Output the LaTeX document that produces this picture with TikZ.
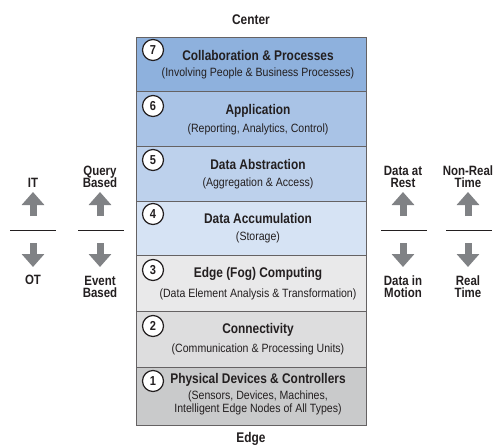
\documentclass[tikz,border=0pt]{standalone}
\usepackage{fontspec}
\setmainfont{Liberation Sans}[FakeStretch=0.85]
\newfontfamily\subfont{Liberation Sans}[FakeStretch=0.88]
\usetikzlibrary{arrows.meta}
\definecolor{ink}{HTML}{231F20}
\definecolor{lseven}{HTML}{8EB1DD}
\definecolor{lsix}{HTML}{A9C3E6}
\definecolor{lfive}{HTML}{BDD1EC}
\definecolor{lfour}{HTML}{D6E3F4}
\definecolor{lthree}{HTML}{E9E9EA}
\definecolor{ltwo}{HTML}{DDDDDE}
\definecolor{lone}{HTML}{C9CACB}
\definecolor{arrowgray}{HTML}{808285}
\tikzset{
  layer/.style={draw=ink!70, line width=0.9pt, minimum width=230pt, inner sep=0pt, anchor=north west},
  numcirc/.style={circle, draw=ink, line width=1.2pt, fill=white, minimum size=21pt, inner sep=0pt, font=\bfseries\fontsize{13}{13}\selectfont, text=ink},
  ttl/.style={font=\bfseries\fontsize{14}{15}\selectfont, text=ink},
  sub/.style={font=\subfont\fontsize{12}{13.5}\selectfont, text=ink, align=center},
  side/.style={font=\bfseries\fontsize{13.5}{13}\selectfont, text=ink, align=center},
  edge/.style={font=\bfseries\fontsize{14}{14}\selectfont, text=ink},
  fatup/.style={arrowgray, line width=7pt, -{Triangle[width=22pt,length=13pt]}},
  rule/.style={ink, line width=1pt}
}
\begin{document}
\begin{tikzpicture}[x=1pt,y=-1pt]
\useasboundingbox (0,0) rectangle (496,445);

% the seven layers, stacked from top to bottom
\node[layer, fill=lseven, minimum height=54pt] (L7) at (136,37) {};
\node[layer, fill=lsix,   minimum height=55pt] (L6) at (136,91) {};
\node[layer, fill=lfive,  minimum height=55pt] (L5) at (136,146) {};
\node[layer, fill=lfour,  minimum height=54pt] (L4) at (136,201) {};
\node[layer, fill=lthree, minimum height=56pt] (L3) at (136,255) {};
\node[layer, fill=ltwo,   minimum height=56pt] (L2) at (136,311) {};
\node[layer, fill=lone,   minimum height=58pt] (L1) at (136,367) {};

% layer numbers
\node[numcirc] (n7) at (153,50) {7};
\node[numcirc] (n6) at (153,106) {6};
\node[numcirc] (n5) at (153,160) {5};
\node[numcirc] (n4) at (153,214) {4};
\node[numcirc] (n3) at (153,270) {3};
\node[numcirc] (n2) at (153,326) {2};
\node[numcirc] (n1) at (153,381) {1};

% layer names and descriptions
\node[ttl] (t7) at (258,55) {Collaboration \& Processes};
\node[sub] (s7) at (258,73) {(Involving People \& Business Processes)};
\node[ttl] (t6) at (258,111) {Application};
\node[sub] (s6) at (258,129) {(Reporting, Analytics, Control)};
\node[ttl] (t5) at (258,164) {Data Abstraction};
\node[sub] (s5) at (258,183) {(Aggregation \& Access)};
\node[ttl] (t4) at (258,218) {Data Accumulation};
\node[sub] (s4) at (258,237) {(Storage)};
\node[ttl] (t3) at (258,274) {Edge (Fog) Computing};
\node[sub] (s3) at (258,294) {(Data Element Analysis \& Transformation)};
\node[ttl] (t2) at (258,330) {Connectivity};
\node[sub] (s2) at (258,349) {(Communication \& Processing Units)};
\node[ttl] (t1) at (258,380) {Physical Devices \& Controllers};
\node[sub] (s1) at (258,403) {(Sensors, Devices, Machines,\\Intelligent Edge Nodes of All Types)};

\node[edge] (center) at (251,20) {Center};
\node[edge] (edgelbl) at (251,439) {Edge};

% side scales: IT / OT
\node[side] (it) at (33,183) {IT};
\node[side] (ot) at (33,280) {OT};
\coordinate (itA) at (33,216); \coordinate (itB) at (33,192);
\coordinate (otA) at (33,243); \coordinate (otB) at (33,267);
\coordinate (itL) at (10,230); \coordinate (itR) at (56,230);
\draw[fatup] (itA) -- (itB);
\draw[fatup] (otA) -- (otB);
\draw[rule] (itL) -- (itR);

% Query / Event based
\node[side] (qb) at (100,177) {Query\\[-1pt]Based};
\node[side] (eb) at (100,287) {Event\\[-1pt]Based};
\coordinate (qbA) at (100,216); \coordinate (qbB) at (100,192);
\coordinate (ebA) at (100,243); \coordinate (ebB) at (100,267);
\coordinate (qbL) at (78,230); \coordinate (qbR) at (124,230);
\draw[fatup] (qbA) -- (qbB);
\draw[fatup] (ebA) -- (ebB);
\draw[rule] (qbL) -- (qbR);

% Data at rest / in motion
\node[side] (dr) at (403,177) {Data at\\[-1pt]Rest};
\node[side] (dm) at (403,287) {Data in\\[-1pt]Motion};
\coordinate (drA) at (403,216); \coordinate (drB) at (403,192);
\coordinate (dmA) at (403,243); \coordinate (dmB) at (403,267);
\coordinate (drL) at (381,230); \coordinate (drR) at (427,230);
\draw[fatup] (drA) -- (drB);
\draw[fatup] (dmA) -- (dmB);
\draw[rule] (drL) -- (drR);

% Non-real time / real time
\node[side] (nrt) at (468,177) {Non-Real\\[-1pt]Time};
\node[side] (rt) at (468,287) {Real\\[-1pt]Time};
\coordinate (nrA) at (468,216); \coordinate (nrB) at (468,192);
\coordinate (rtA) at (468,243); \coordinate (rtB) at (468,267);
\coordinate (nrL) at (446,230); \coordinate (nrR) at (492,230);
\draw[fatup] (nrA) -- (nrB);
\draw[fatup] (rtA) -- (rtB);
\draw[rule] (nrL) -- (nrR);
\end{tikzpicture}
\end{document}
